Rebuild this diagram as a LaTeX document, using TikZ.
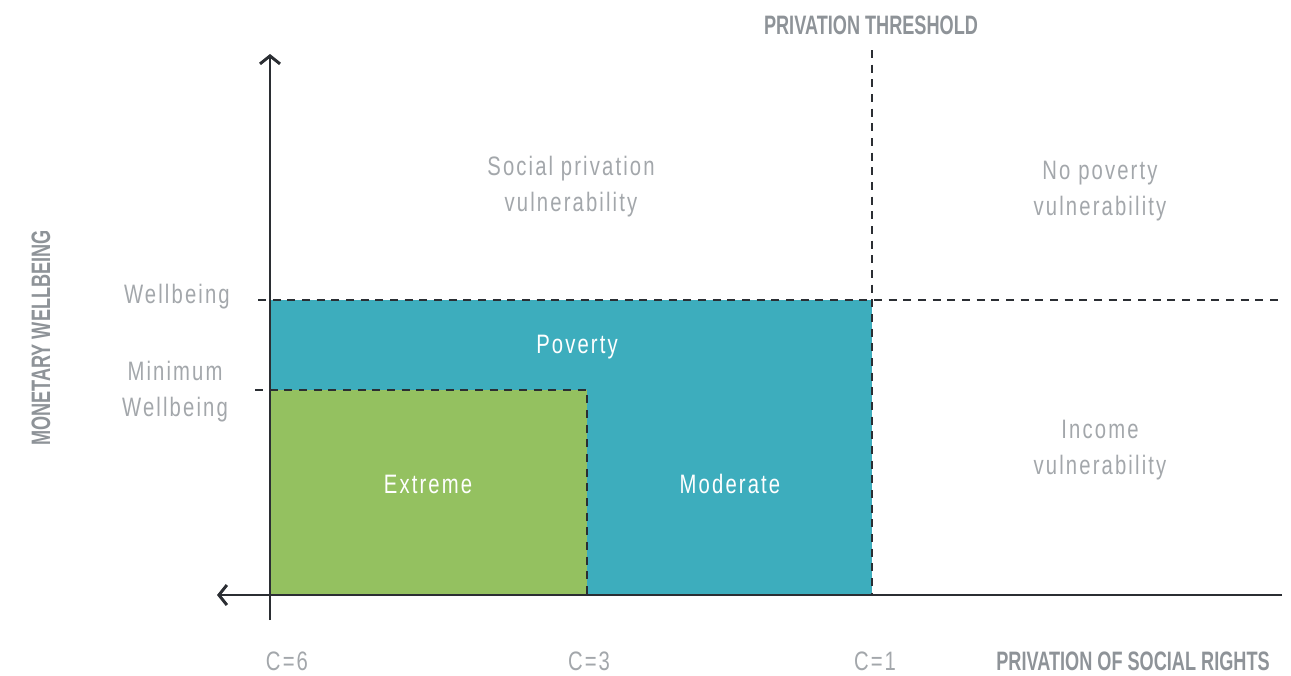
\documentclass[tikz,border=0pt]{standalone}
\usepackage{fontspec}
\setmainfont{Liberation Sans}[FakeStretch=0.76,LetterSpace=8]
\newfontfamily\boldlab{Liberation Sans Bold}[FakeStretch=0.68]
\usetikzlibrary{arrows.meta}
\definecolor{lightgray}{HTML}{A3A7AB}
\definecolor{labgray}{HTML}{8E9398}
\definecolor{teal}{HTML}{3DADBD}
\definecolor{grn}{HTML}{94C160}
\definecolor{axis}{HTML}{2B2E33}
\begin{document}
\begin{tikzpicture}[x=0.75pt,y=-0.75pt,
  txt/.style={text=lightgray,font=\fontsize{20}{24}\selectfont,align=center,inner sep=0pt},
  wtxt/.style={text=white,font=\fontsize{20}{24}\selectfont,align=center,inner sep=0pt},
  lab/.style={text=labgray,font=\boldlab\fontsize{20}{24}\selectfont,inner sep=0pt},
  axisline/.style={draw=axis,line width=2pt,-{Straight Barb[length=6pt,width=15pt,line width=2.2pt]}},
  dashline/.style={draw=axis,line width=1.3pt,dash pattern=on 6pt off 5pt}]
\useasboundingbox (0,0) rectangle (1291,675);
% regions
\fill[teal] (270,300) rectangle (872,595);
\fill[grn] (270,390) rectangle (587,595);
% dashed lines
\coordinate (wl) at (258,300);
\coordinate (wr) at (1282,300);
\coordinate (ml) at (255,390);
\coordinate (mr) at (587,390);
\coordinate (mb) at (587,595);
\coordinate (tt) at (872,50);
\coordinate (tb) at (872,595);
\draw[dashline] (wl) -- (wr);
\draw[dashline] (ml) -- (mr) -- (mb);
\draw[dashline] (tt) -- (tb);
% axes
\coordinate (yb) at (270,620);
\coordinate (yt) at (270,54);
\coordinate (xr) at (1282,595);
\coordinate (xl) at (217,595);
\draw[axisline] (yb) -- (yt);
\draw[axisline] (xr) -- (xl);
% labels
\node[lab] (thr) at (871,25) {PRIVATION THRESHOLD};
\node[lab,rotate=90] (mw) at (41,338) {MONETARY WELLBEING};
\node[lab] (psr) at (1133,661) {PRIVATION OF SOCIAL RIGHTS};
\node[txt] (spv) at (571,187) {Social privation\\[3pt]vulnerability};
\node[txt] (npv) at (1100,191) {No poverty\\[3pt]vulnerability};
\node[txt] (iv) at (1100,450) {Income\\[3pt]vulnerability};
\node[txt,anchor=east] (wb) at (230,297) {Wellbeing};
\node[txt] (mwb) at (175,392) {Minimum\\[3pt]Wellbeing};
\node[wtxt] (pov) at (577,347) {Poverty};
\node[wtxt] (ext) at (428,484) {Extreme};
\node[wtxt] (mod) at (730,484) {Moderate};
\node[txt] (c6) at (287,661) {C=6};
\node[txt] (c3) at (589,661) {C=3};
\node[txt] (c1) at (875,661) {C=1};
\end{tikzpicture}
\end{document}
